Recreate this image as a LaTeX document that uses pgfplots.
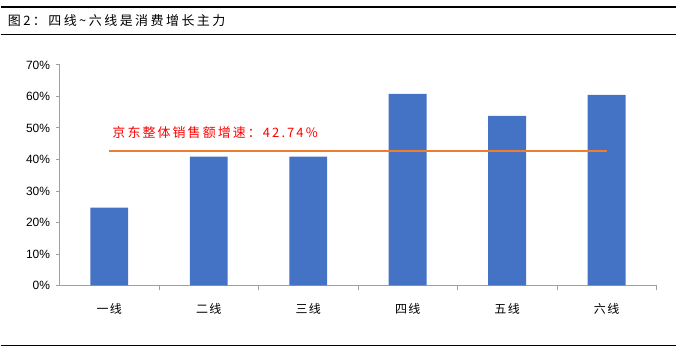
\documentclass[border=0pt]{standalone}
\usepackage{pgfplots}
\pgfplotsset{compat=1.18}
\usepackage{fontspec}
\setmainfont{Liberation Sans}
\newfontfamily\cjk[LetterSpace=12]{Noto Sans CJK SC}
\newfontfamily\cjkw[LetterSpace=19]{Noto Sans CJK SC}
\newfontfamily\cjka[LetterSpace=16]{Noto Sans CJK SC}
\definecolor{barblue}{HTML}{4472C4}
\definecolor{lineorange}{HTML}{ED7D31}
\definecolor{axgray}{HTML}{A0A0A0}
\begin{document}
\begin{tikzpicture}
\path (0pt,0pt) rectangle (677pt,-352pt);
\draw[line width=1.3pt] (0pt,-7pt) -- (677pt,-7pt);
\draw[line width=1pt] (0pt,-35pt) -- (677pt,-35pt);
\draw[line width=1pt] (0pt,-346pt) -- (677pt,-346pt);
\node[anchor=west, inner sep=0pt, font=\cjkw\fontsize{13}{15}\selectfont] at (7pt,-21pt) {图2：四线\textasciitilde 六线是消费增长主力};
\begin{axis}[
  at={(59pt,-286pt)}, anchor=south west,
  scale only axis, width=598pt, height=221pt,
  xmin=-0.5, xmax=5.5, ymin=0, ymax=70,
  axis lines*=left,
  axis line style={axgray, line width=0.8pt},
  ytick={0,10,...,70},
  /pgf/number format/assume math mode=true,
  yticklabel={\pgfmathprintnumber{\tick}\%},
  yticklabel style={font=\fontsize{12}{14}\selectfont, xshift=-2pt},
  xtick={0,...,5},
  xticklabels={一线,二线,三线,四线,五线,六线},
  xticklabel style={font=\cjk\fontsize{12}{14}\selectfont, yshift=-10pt},
  x tick style={draw=none},
  y tick style={axgray, line width=0.8pt},
  extra x ticks={0.5,1.5,...,5.5},
  extra x tick labels={},
  extra x tick style={x tick style={draw=axgray, line width=0.8pt}, tick align=outside, major tick length=5pt},
  tick align=outside, major tick length=4pt,
  clip=false,
]
\addplot[ybar, bar width=38pt, fill=barblue, draw=none] coordinates {(0,24.7) (1,40.9) (2,40.9) (3,60.8) (4,53.8) (5,60.5)};
\addplot[color=lineorange, draw=lineorange, line width=1.6pt, mark=none] coordinates {(0,42.74) (5,42.74)};
\node[anchor=west, inner sep=0pt, text=red, font=\cjka\fontsize{13}{15}\selectfont] at (axis cs:0.03,48.6) {京东整体销售额增速：42.74\%};
\end{axis}
\end{tikzpicture}
\end{document}
